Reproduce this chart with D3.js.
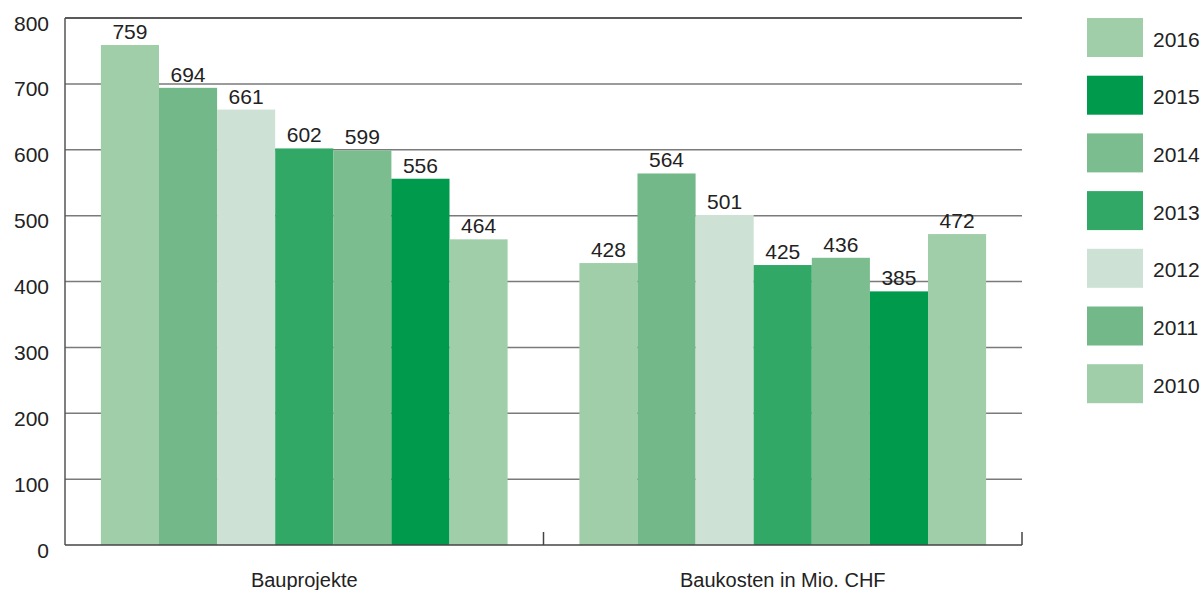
<!DOCTYPE html>
<html>
<head>
<meta charset="utf-8">
<script src="https://cdn.jsdelivr.net/npm/d3@7"></script>
<style>
  body { margin: 0; background: #fff; }
  svg text { font-family: "Liberation Sans", Arial, sans-serif; fill: #222; }
</style>
</head>
<body>
<div id="chart"></div>
<script>
// chart data
const groups = ["Bauprojekte", "Baukosten in Mio. CHF"];
const years = ["2010", "2011", "2012", "2013", "2014", "2015", "2016"];
const bauprojekte = [759, 694, 661, 602, 599, 556, 464];
const baukosten = [428, 564, 501, 425, 436, 385, 472];
const yTicks = [0, 100, 200, 300, 400, 500, 600, 700, 800];
const legendYears = ["2016", "2015", "2014", "2013", "2012", "2011", "2010"];
const yearColors = ["#a0cea9", "#72b888", "#cde2d4", "#32a867", "#7bbd8f", "#009a4c", "#a0cea9"];

const seriesByGroup = [bauprojekte, baukosten];

const width = 1202, height = 590;
const margin = { top: 18, right: 180, bottom: 45, left: 65 };

const svg = d3.select("#chart").append("svg")
  .attr("width", width)
  .attr("height", height);

const x0 = d3.scaleBand()
  .domain(groups)
  .range([margin.left, width - margin.right])
  .paddingInner(0.15)
  .paddingOuter(0.075);

const x1 = d3.scaleBand()
  .domain(years)
  .range([0, x0.bandwidth()]);

const y = d3.scaleLinear()
  .domain([0, 800])
  .range([height - margin.bottom, margin.top]);

const color = d3.scaleOrdinal().domain(years).range(yearColors);

const x0Right = width - margin.right;

// gridlines (behind bars)
svg.append("g")
  .selectAll("line")
  .data(yTicks.filter(t => t > 0 && t < 800))
  .join("line")
  .attr("x1", margin.left)
  .attr("x2", x0Right)
  .attr("y1", d => y(d))
  .attr("y2", d => y(d))
  .attr("stroke", "#7a7a7a")
  .attr("stroke-width", 1.5);

// top line
svg.append("line")
  .attr("x1", margin.left).attr("x2", x0Right)
  .attr("y1", y(800)).attr("y2", y(800))
  .attr("stroke", "#222").attr("stroke-width", 1.5);

// bars
const groupG = svg.append("g")
  .selectAll("g")
  .data(groups)
  .join("g")
  .attr("transform", d => `translate(${x0(d)},0)`);

groupG.selectAll("rect")
  .data((g, gi) => years.map((yr, i) => ({ year: yr, value: seriesByGroup[gi][i] })))
  .join("rect")
  .attr("x", d => x1(d.year))
  .attr("y", d => y(d.value))
  .attr("width", x1.bandwidth())
  .attr("height", d => y(0) - y(d.value))
  .attr("fill", d => color(d.year));

// value labels
groupG.selectAll("text")
  .data((g, gi) => years.map((yr, i) => ({ year: yr, value: seriesByGroup[gi][i] })))
  .join("text")
  .attr("x", d => x1(d.year) + x1.bandwidth() / 2)
  .attr("y", d => y(d.value) - 6)
  .attr("text-anchor", "middle")
  .attr("font-size", "21px")
  .text(d => d.value);

// y axis line
svg.append("line")
  .attr("x1", margin.left).attr("x2", margin.left)
  .attr("y1", y(800)).attr("y2", y(0))
  .attr("stroke", "#555").attr("stroke-width", 1.5);

// x axis line
svg.append("line")
  .attr("x1", margin.left).attr("x2", x0Right)
  .attr("y1", y(0)).attr("y2", y(0))
  .attr("stroke", "#444").attr("stroke-width", 1.5);

// x ticks between groups and at the end
const tickXs = [(x0(groups[0]) + x0.bandwidth() + x0(groups[1])) / 2, x0Right];
svg.append("g")
  .selectAll("line")
  .data(tickXs)
  .join("line")
  .attr("x1", d => d).attr("x2", d => d)
  .attr("y1", y(0) - 13).attr("y2", y(0))
  .attr("stroke", "#444").attr("stroke-width", 1.5);

// y tick labels (sit a little below their gridline)
svg.append("g")
  .selectAll("text")
  .data(yTicks)
  .join("text")
  .attr("x", 49)
  .attr("y", d => y(d) + 5)
  .attr("dy", "0.36em")
  .attr("text-anchor", "end")
  .attr("font-size", "21px")
  .text(d => d);

// category labels
svg.append("g")
  .selectAll("text")
  .data(groups)
  .join("text")
  .attr("x", d => x0(d) + x0.bandwidth() / 2)
  .attr("y", 587)
  .attr("text-anchor", "middle")
  .attr("font-size", "20px")
  .text(d => d);

// legend
const legend = svg.append("g")
  .selectAll("g")
  .data(legendYears)
  .join("g")
  .attr("transform", (d, i) => `translate(1087, ${18 + i * 57.7})`);

legend.append("rect")
  .attr("width", 56)
  .attr("height", 39)
  .attr("fill", d => color(d));

legend.append("text")
  .attr("x", 66)
  .attr("y", 21)
  .attr("dy", "0.36em")
  .attr("font-size", "21px")
  .text(d => d);
</script>
</body>
</html>
